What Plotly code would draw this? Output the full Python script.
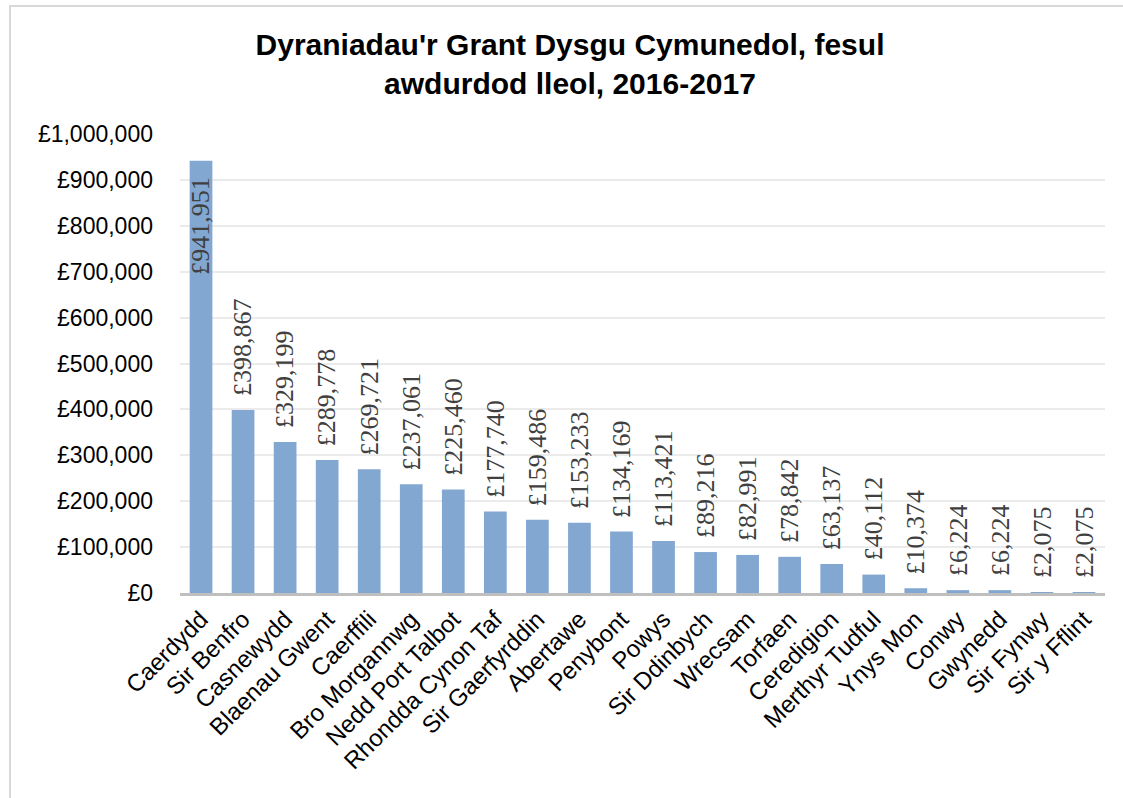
import plotly.graph_objects as go

categories = ["Caerdydd", "Sir Benfro", "Casnewydd", "Blaenau Gwent", "Caerffili",
              "Bro Morgannwg", "Nedd Port Talbot", "Rhondda Cynon Taf", "Sir Gaerfyrddin",
              "Abertawe", "Penybont", "Powys", "Sir Ddinbych", "Wrecsam", "Torfaen",
              "Ceredigion", "Merthyr Tudful", "Ynys Mon", "Conwy", "Gwynedd",
              "Sir Fynwy", "Sir y Fflint"]
values = [941951, 398867, 329199, 289778, 269721, 237061, 225460, 177740, 159486,
          153233, 134169, 113421, 89216, 82991, 78842, 63137, 40112, 10374, 6224,
          6224, 2075, 2075]
y_ticks = [0, 100000, 200000, 300000, 400000, 500000, 600000, 700000, 800000, 900000, 1000000]
y_tick_text = ["£{:,}".format(v) for v in y_ticks]

W, H = 1123, 798
ML, MR, MT, MB = 180, 18, 134, 205
PW, PH = W - ML - MR, H - MT - MB

fig = go.Figure()
fig.add_trace(go.Bar(
    x=categories, y=values,
    marker=dict(color="#82a7d1", line=dict(width=0)),
    hoverinfo="x+y",
))

label_font = dict(family="Liberation Serif, Times New Roman, serif", size=26, color="#404040")
annotations = []
for i, (c, v) in enumerate(zip(categories, values)):
    label = "£{:,}".format(v)
    if i == 0:
        annotations.append(dict(x=c, y=v, xref="x", yref="y", text=label, showarrow=False,
                                textangle=-90, yanchor="top", yshift=-14, font=label_font))
    else:
        annotations.append(dict(x=c, y=v, xref="x", yref="y", text=label, showarrow=False,
                                textangle=-90, yanchor="bottom", yshift=12, font=label_font))

# light grey chart-area border (top and left edges visible)
bx0 = (10 - ML) / PW
by1 = (H - MB - 6) / PH
shapes = [dict(type="rect", xref="paper", yref="paper", x0=bx0, x1=1.2, y0=-0.6, y1=by1,
               line=dict(color="#d9d9d9", width=2), fillcolor="rgba(0,0,0,0)", layer="below")]

fig.update_layout(
    width=W, height=H, autosize=False,
    margin=dict(l=ML, r=MR, t=MT, b=MB),
    paper_bgcolor="white", plot_bgcolor="white",
    bargap=0.46,
    showlegend=False,
    title=dict(text="Dyraniadau'r Grant Dysgu Cymunedol, fesul<br>awdurdod lleol, 2016-2017",
               x=570 / W, xanchor="center", y=1 - 55 / H, yanchor="top",
               font=dict(family="Liberation Sans, Arial, sans-serif", size=30, color="black",
                         weight="bold")),
    font=dict(family="Liberation Sans, Arial, sans-serif", color="black"),
    xaxis=dict(tickangle=-45, tickfont=dict(size=24, color="black"),
               showline=True, linecolor="#bfbfbf", linewidth=2.5, ticks="",
               showgrid=False),
    yaxis=dict(range=[0, 1000000], tickvals=y_ticks, ticktext=y_tick_text,
               tickfont=dict(size=23, color="black"), showgrid=True, gridcolor="#ebebeb",
               gridwidth=1.5, zeroline=False, showline=False, ticks="",
               ticklabelstandoff=26),
    annotations=annotations,
    shapes=shapes,
)

fig.write_html("out.html", config={"displayModeBar": False},
               post_script="document.body.style.margin='0';")
